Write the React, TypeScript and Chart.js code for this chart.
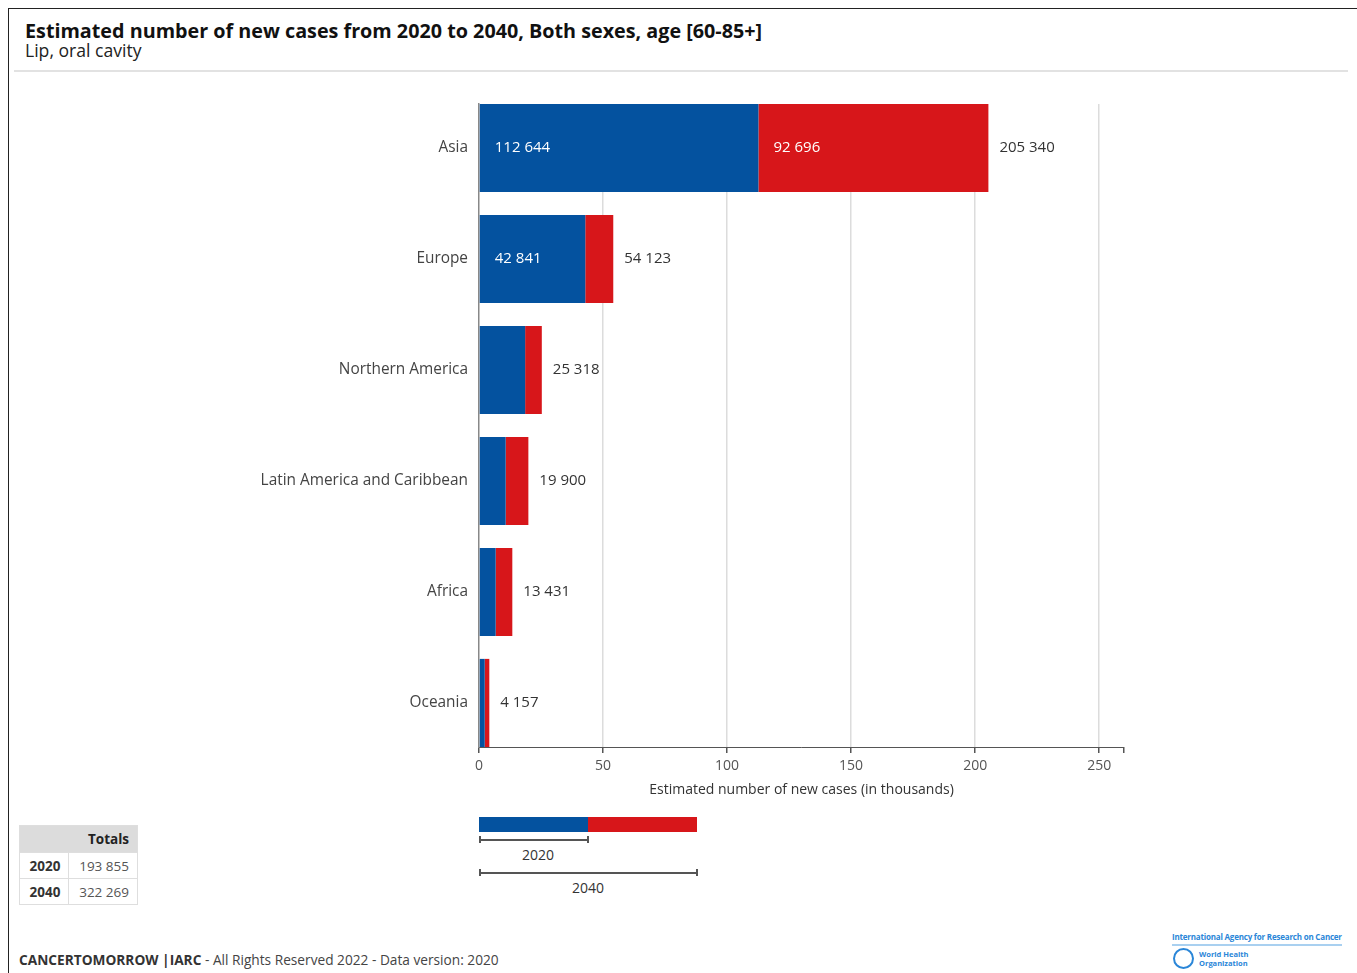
import React, { useEffect, useRef } from "react";
import { Chart, registerables } from "chart.js";

Chart.register(...registerables);

const regions = ["Asia", "Europe", "Northern America", "Latin America and Caribbean", "Africa", "Oceania"];
const cases2020 = [112644, 42841, 18600, 10750, 6720, 2300];
const cases2040 = [205340, 54123, 25318, 19900, 13431, 4157];
const xTicks = [0, 50, 100, 150, 200, 250];
const xMax = 260;

const BLUE = "#04529F";
const RED = "#D7161A";
const FONT = '"Open Sans", "Noto Sans", sans-serif';

const fmt = (v: number) => String(v).replace(/\B(?=(\d{3})+(?!\d))/g, " ");
const sum = (a: number[]) => a.reduce((s, v) => s + v, 0);

const labelPlugin = {
  id: "barLabels",
  afterDatasetsDraw(chart: any) {
    const ctx = chart.ctx;
    ctx.save();
    ctx.font = `15px ${FONT}`;
    ctx.textBaseline = "middle";
    ctx.textAlign = "left";
    const m0 = chart.getDatasetMeta(0);
    const m1 = chart.getDatasetMeta(1);
    m0.data.forEach((bar: any, i: number) => {
      const txt = fmt(cases2020[i]);
      const w = Math.abs(bar.x - bar.base);
      if (w > ctx.measureText(txt).width + 30) {
        ctx.fillStyle = "#ffffff";
        ctx.fillText(txt, Math.min(bar.x, bar.base) + 15, bar.y);
      }
    });
    m1.data.forEach((bar: any, i: number) => {
      const inc = cases2040[i] - cases2020[i];
      const txt = fmt(inc);
      const w = Math.abs(bar.x - bar.base);
      if (w > ctx.measureText(txt).width + 30) {
        ctx.fillStyle = "#ffffff";
        ctx.fillText(txt, Math.min(bar.x, bar.base) + 15, bar.y);
      }
      ctx.fillStyle = "#333333";
      ctx.fillText(fmt(cases2040[i]), Math.max(bar.x, bar.base) + 11, bar.y);
    });
    ctx.restore();
  },
};

function ChartCanvas() {
  const ref = useRef<HTMLCanvasElement | null>(null);
  useEffect(() => {
    if (!ref.current) return;
    const half = 0.397;
    const chart = new Chart(ref.current, {
      type: "bar",
      data: {
        datasets: [
          {
            label: "2020",
            data: cases2020.map((v, i) => ({ x: v / 1000, y: i })),
            backgroundColor: BLUE,
            borderWidth: 0,
          },
          {
            label: "2040",
            data: cases2040.map((v, i) => ({ x: (v - cases2020[i]) / 1000, y: i })),
            backgroundColor: RED,
            borderWidth: 0,
          },
        ],
      },
      options: {
        indexAxis: "y",
        animation: false,
        responsive: false,
        devicePixelRatio: 1,
        layout: { padding: { top: 9, right: 36, left: 0, bottom: 0 } },
        plugins: { legend: { display: false }, tooltip: { enabled: false } },
        datasets: { bar: { barPercentage: half * 2, categoryPercentage: 1 } },
        scales: {
          x: {
            type: "linear",
            stacked: true,
            min: 0,
            max: xMax,
            afterBuildTicks: (scale: any) => {
              scale.ticks = [...xTicks, xMax].map((v) => ({ value: v }));
            },
            afterFit: (scale: any) => {
              scale.height = 63;
              scale.paddingLeft = 0;
              scale.paddingRight = 0;
            },
            ticks: {
              color: "#555",
              font: { family: FONT, size: 14 },
              padding: 5,
              maxRotation: 0,
              callback: (v: any) => (xTicks.includes(Number(v)) ? String(v) : ""),
            },
            grid: {
              color: (c: any) => (c.tick && (c.tick.value === xMax || c.tick.value === 0) ? "rgba(0,0,0,0)" : "#dcdcdc"),
              lineWidth: 1.5,
              tickColor: "#555",
              tickLength: 6,
              drawTicks: true,
            },
            border: { display: true, color: "#555", width: 1 },
            title: {
              display: true,
              text: "Estimated number of new cases (in thousands)",
              color: "#333",
              font: { family: FONT, size: 14 },
              padding: { top: 4, bottom: 12 },
            },
          },
          y: {
            type: "linear",
            stacked: true,
            reverse: true,
            offset: false,
            min: -half,
            max: regions.length - 1 + half,
            afterBuildTicks: (scale: any) => {
              scale.ticks = regions.map((_, i) => ({ value: i }));
            },
            afterFit: (scale: any) => {
              scale.width = 279;
              scale.paddingTop = 0;
              scale.paddingBottom = 0;
            },
            ticks: {
              color: "#444",
              font: { family: FONT, size: 15.4 },
              padding: 11,
              callback: (v: any) => regions[Number(v)] ?? "",
            },
            grid: { color: "rgba(0,0,0,0)", drawTicks: false, offset: false },
            border: { display: true, color: "#888", width: 1.5 },
          },
        },
      },
      plugins: [labelPlugin],
    } as any);
    return () => chart.destroy();
  }, []);
  return (
    <canvas
      ref={ref}
      width={960}
      height={715}
      style={{ position: "absolute", left: 200, top: 95, width: 960, height: 715 }}
    />
  );
}

export default function App() {
  const total2020 = sum(cases2020);
  const total2040 = sum(cases2040);
  const cell: React.CSSProperties = {
    border: "1px solid #dedede",
    padding: "0 8px",
    height: 25,
    fontSize: 13.5,
    color: "#555",
    textAlign: "right",
  };
  return (
    <div
      style={{
        position: "absolute",
        left: 0,
        top: 0,
        width: 1357,
        height: 973,
        overflow: "hidden",
        background: "#fff",
        fontFamily: FONT,
      }}
    >
      <div
        style={{
          position: "absolute",
          left: 8,
          top: 8,
          width: 1360,
          height: 980,
          borderTop: "1.5px solid #222",
          borderLeft: "1.5px solid #222",
        }}
      />
      <div style={{ position: "absolute", left: 25, top: 17, fontSize: 19.75, fontWeight: 700, color: "#111", whiteSpace: "nowrap", lineHeight: "27px" }}>
        Estimated number of new cases from 2020 to 2040, Both sexes, age [60-85+]
      </div>
      <div style={{ position: "absolute", left: 25, top: 38, fontSize: 17.6, color: "#222", whiteSpace: "nowrap", lineHeight: "24px" }}>
        Lip, oral cavity
      </div>
      <div style={{ position: "absolute", left: 14, top: 70, width: 1334, height: 2, background: "#e2e2e2" }} />

      <ChartCanvas />

      {/* legend */}
      <div style={{ position: "absolute", left: 479, top: 817, width: 109, height: 15, background: BLUE }} />
      <div style={{ position: "absolute", left: 588, top: 817, width: 109, height: 15, background: RED }} />
      <div style={{ position: "absolute", left: 479, top: 839, width: 109, height: 1.5, background: "#555" }} />
      <div style={{ position: "absolute", left: 479, top: 836, width: 1.5, height: 7, background: "#555" }} />
      <div style={{ position: "absolute", left: 587, top: 836, width: 1.5, height: 7, background: "#555" }} />
      <div style={{ position: "absolute", left: 479, top: 845, width: 118, textAlign: "center", fontSize: 14, color: "#333" }}>2020</div>
      <div style={{ position: "absolute", left: 479, top: 872, width: 218, height: 1.5, background: "#555" }} />
      <div style={{ position: "absolute", left: 479, top: 869, width: 1.5, height: 7, background: "#555" }} />
      <div style={{ position: "absolute", left: 696, top: 869, width: 1.5, height: 7, background: "#555" }} />
      <div style={{ position: "absolute", left: 479, top: 878, width: 218, textAlign: "center", fontSize: 14, color: "#333" }}>2040</div>

      {/* totals table */}
      <table
        style={{
          position: "absolute",
          left: 19,
          top: 825,
          borderCollapse: "collapse",
          fontFamily: FONT,
        }}
      >
        <tbody>
          <tr>
            <td colSpan={2} style={{ ...cell, background: "#dcdcdc", fontWeight: 700, color: "#222", width: 101, height: 26 }}>
              Totals
            </td>
          </tr>
          <tr>
            <td style={{ ...cell, fontWeight: 700, color: "#333", width: 32 }}>2020</td>
            <td style={{ ...cell, width: 51 }}>{fmt(total2020)}</td>
          </tr>
          <tr>
            <td style={{ ...cell, fontWeight: 700, color: "#333" }}>2040</td>
            <td style={cell}>{fmt(total2040)}</td>
          </tr>
        </tbody>
      </table>

      {/* footer */}
      <div style={{ position: "absolute", left: 19, top: 950, fontSize: 13.7, color: "#444", whiteSpace: "nowrap" }}>
        <span style={{ fontWeight: 700, color: "#333" }}>CANCERTOMORROW |IARC</span> - All Rights Reserved 2022 - Data version: 2020
      </div>

      {/* logo */}
      <div
        style={{
          position: "absolute",
          left: 1172,
          top: 931,
          width: 172,
          fontSize: 8,
          fontWeight: 700,
          color: "#2a86d8",
          whiteSpace: "nowrap",
          letterSpacing: -0.2,
        }}
      >
        International Agency for Research on Cancer
      </div>
      <div style={{ position: "absolute", left: 1172, top: 944, width: 170, height: 1.5, background: "#a9d0f0" }} />
      <div
        style={{
          position: "absolute",
          left: 1173,
          top: 948,
          width: 21,
          height: 21,
          borderRadius: "50%",
          border: "2px solid #2a86d8",
          boxSizing: "border-box",
        }}
      />
      <div style={{ position: "absolute", left: 1199, top: 950, fontSize: 7.5, fontWeight: 700, color: "#2a86d8", lineHeight: "9px" }}>
        World Health
        <br />
        Organization
      </div>
    </div>
  );
}
